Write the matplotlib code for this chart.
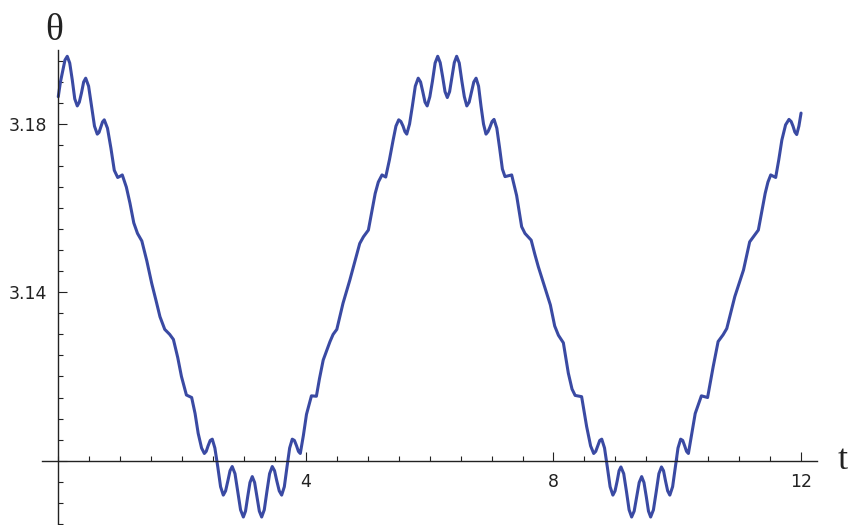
import numpy as np
import matplotlib.pyplot as plt
from matplotlib.ticker import FixedLocator, MultipleLocator

# theta(t), piece by piece
t_pts = [
    # first crest
    0.000, 0.035, 0.070, 0.108, 0.145, 0.185, 0.226, 0.266, 0.307, 0.340,
    0.375, 0.410, 0.443, 0.490, 0.537, 0.585, 0.630, 0.658, 0.686, 0.715,
    0.743, 0.795, 0.850, 0.905, 0.960, 1.000, 1.034,
    # descent
    1.100, 1.158, 1.220, 1.280, 1.350, 1.430, 1.510, 1.580, 1.643, 1.720,
    1.800, 1.860, 1.930, 1.990, 2.070, 2.155, 2.210, 2.260, 2.315,
    # first trough
    2.360, 2.390, 2.420, 2.455, 2.488, 2.530, 2.577, 2.622, 2.666, 2.703,
    2.740, 2.775, 2.810, 2.855, 2.900, 2.945, 2.990, 3.025, 3.060, 3.097,
    3.134, 3.172, 3.210, 3.248, 3.286, 3.328, 3.370, 3.414, 3.457, 3.494,
    3.530, 3.570, 3.609, 3.652, 3.695, 3.738, 3.780, 3.815, 3.850, 3.880,
    3.910,
    # rise
    3.960, 4.010, 4.090, 4.170, 4.220, 4.280, 4.390, 4.440, 4.500, 4.600,
    4.710, 4.870, 4.930, 5.010, 5.120, 5.170, 5.230, 5.290, 5.350,
    # second crest
    5.410, 5.455, 5.500, 5.535, 5.570, 5.600, 5.630, 5.675, 5.720, 5.768,
    5.815, 5.853, 5.890, 5.925, 5.960, 6.003, 6.045, 6.088, 6.130, 6.170,
    6.210, 6.248, 6.285, 6.322, 6.360, 6.398, 6.436, 6.478, 6.520, 6.560,
    6.600, 6.638, 6.675, 6.713, 6.750, 6.790, 6.830, 6.870, 6.910, 6.943,
    6.975, 7.008, 7.040, 7.085, 7.130, 7.175, 7.217, 7.270, 7.325,
    # descent
    7.405, 7.486, 7.540, 7.640, 7.700, 7.755, 7.890, 7.950, 8.020, 8.080,
    8.160, 8.240, 8.300, 8.350, 8.455, 8.536, 8.600,
    # second trough
    8.650, 8.683, 8.715, 8.748, 8.780, 8.825, 8.870, 8.915, 8.960, 8.995,
    9.030, 9.060, 9.090, 9.135, 9.180, 9.222, 9.263, 9.304, 9.345, 9.385,
    9.425, 9.462, 9.500, 9.535, 9.570, 9.615, 9.660, 9.703, 9.745, 9.778,
    9.810, 9.845, 9.880, 9.925, 9.970, 10.012, 10.055, 10.088, 10.120, 10.150,
    10.180,
    # rise to the end
    10.230, 10.290, 10.390, 10.490, 10.540, 10.580, 10.660, 10.740, 10.800, 10.930,
    11.070, 11.170, 11.230, 11.310, 11.420, 11.465, 11.510, 11.590, 11.640, 11.690,
    11.750, 11.805, 11.840, 11.870, 11.900, 11.930, 11.965, 12.000,
]
theta_pts = [
    3.1865, 3.1900, 3.1925, 3.1952, 3.1961, 3.1945, 3.1905, 3.1860, 3.1843, 3.1852,
    3.1874, 3.1900, 3.1909, 3.1890, 3.1843, 3.1795, 3.1776, 3.1780, 3.1792, 3.1805,
    3.1810, 3.1790, 3.1743, 3.1690, 3.1673, 3.1676, 3.1679,
    3.1650, 3.1612, 3.1565, 3.1540, 3.1522, 3.1475, 3.1421, 3.1380, 3.1342, 3.1312,
    3.1300, 3.1288, 3.1245, 3.1200, 3.1156, 3.1150, 3.1112, 3.1065, 3.1030,
    3.1017, 3.1022, 3.1035, 3.1048, 3.1051, 3.1030, 3.0985, 3.0938, 3.0918, 3.0928,
    3.0952, 3.0976, 3.0986, 3.0969, 3.0926, 3.0883, 3.0866, 3.0880, 3.0914, 3.0948,
    3.0962, 3.0948, 3.0914, 3.0880, 3.0866, 3.0883, 3.0926, 3.0969, 3.0986, 3.0976,
    3.0952, 3.0928, 3.0918, 3.0938, 3.0985, 3.1030, 3.1051, 3.1048, 3.1035, 3.1022,
    3.1017,
    3.1060, 3.1110, 3.1154, 3.1153, 3.1195, 3.1239, 3.1283, 3.1300, 3.1312, 3.1374,
    3.1429, 3.1516, 3.1532, 3.1548, 3.1635, 3.1662, 3.1679, 3.1674, 3.1715,
    3.1762, 3.1795, 3.1810, 3.1806, 3.1795, 3.1782, 3.1776, 3.1800, 3.1842, 3.1890,
    3.1909, 3.1900, 3.1876, 3.1852, 3.1843, 3.1865, 3.1902, 3.1945, 3.1961, 3.1946,
    3.1912, 3.1877, 3.1863, 3.1877, 3.1912, 3.1946, 3.1961, 3.1945, 3.1902, 3.1865,
    3.1843, 3.1852, 3.1876, 3.1900, 3.1909, 3.1890, 3.1842, 3.1800, 3.1776, 3.1782,
    3.1793, 3.1806, 3.1811, 3.1790, 3.1743, 3.1693, 3.1675, 3.1677, 3.1679,
    3.1630, 3.1556, 3.1540, 3.1524, 3.1490, 3.1461, 3.1398, 3.1370, 3.1320, 3.1298,
    3.1280, 3.1208, 3.1170, 3.1155, 3.1152, 3.1081, 3.1035,
    3.1017, 3.1022, 3.1035, 3.1048, 3.1051, 3.1030, 3.0985, 3.0938, 3.0918, 3.0928,
    3.0952, 3.0976, 3.0985, 3.0969, 3.0926, 3.0883, 3.0866, 3.0880, 3.0914, 3.0948,
    3.0962, 3.0948, 3.0914, 3.0880, 3.0866, 3.0883, 3.0926, 3.0969, 3.0985, 3.0976,
    3.0952, 3.0928, 3.0918, 3.0938, 3.0985, 3.1030, 3.1051, 3.1048, 3.1035, 3.1022,
    3.1017,
    3.1060, 3.1112, 3.1154, 3.1150, 3.1190, 3.1223, 3.1283, 3.1299, 3.1314, 3.1390,
    3.1453, 3.1520, 3.1532, 3.1548, 3.1635, 3.1662, 3.1679, 3.1673, 3.1715, 3.1762,
    3.1798, 3.1811, 3.1806, 3.1795, 3.1781, 3.1775, 3.1795, 3.1826,
]

x_major = [4, 8, 12]
x_labels = ["4", "8", "12"]
y_major = [3.10, 3.14, 3.18]
y_labels = ["", "3.14", "3.18"]

fig = plt.figure(figsize=(8.49, 5.25), dpi=100)
ax = fig.add_axes([0.0491, 0.0, 0.9128, 0.9048])

ax.plot(t_pts, theta_pts, color="#3a4aa3", lw=2.2,
        solid_joinstyle="round", solid_capstyle="round")

ax.set_xlim(-0.268, 12.252)
ax.set_ylim(3.0847, 3.1976)

ax.spines["left"].set_position(("data", 0))
ax.spines["bottom"].set_position(("data", 3.10))
ax.spines["top"].set_visible(False)
ax.spines["right"].set_visible(False)
for s in ["left", "bottom"]:
    ax.spines[s].set_linewidth(1.0)
    ax.spines[s].set_color("#222222")

ax.xaxis.set_major_locator(FixedLocator(x_major))
ax.set_xticklabels(x_labels)
ax.xaxis.set_minor_locator(MultipleLocator(0.5))
ax.yaxis.set_major_locator(FixedLocator(y_major))
ax.set_yticklabels(y_labels)
ax.yaxis.set_minor_locator(MultipleLocator(0.005))

ax.tick_params(which="both", direction="in", color="#222222", width=0.8)
ax.tick_params(which="major", length=6.5, labelsize=12.5, labelcolor="#222222")
ax.tick_params(which="minor", length=3.6)
ax.tick_params(axis="x", which="major", pad=9)
ax.tick_params(axis="y", which="major", pad=8)

ax.text(-0.06, 1.005, "θ", transform=ax.get_xaxis_transform(), family="Liberation Serif",
        fontsize=27, ha="center", va="bottom", color="#222222")
ax.annotate("t", xy=(1.0, 3.10), xycoords=ax.get_yaxis_transform(),
            xytext=(15, 0), textcoords="offset points", family="Liberation Serif",
            fontsize=26, ha="left", va="center", color="#222222", annotation_clip=False)

fig.savefig("out.png", dpi=100)
